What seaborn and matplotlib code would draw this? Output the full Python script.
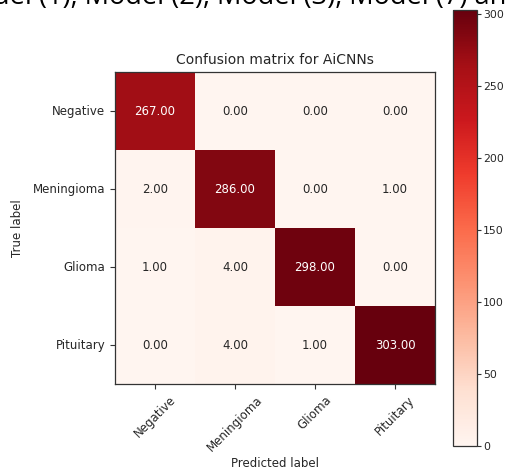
import matplotlib
matplotlib.use("Agg")
import matplotlib.pyplot as plt
import numpy as np
import pandas as pd
import seaborn as sns

# Class names and confusion counts (rows: true label, columns: predicted label)
classes = ["Negative", "Meningioma", "Glioma", "Pituitary"]
row_negative = [267, 0, 0, 0]
row_meningioma = [2, 286, 0, 1]
row_glioma = [1, 4, 298, 0]
row_pituitary = [0, 4, 1, 303]
cbar_ticks = [0, 50, 100, 150, 200, 250, 300]

cm = pd.DataFrame(
    [row_negative, row_meningioma, row_glioma, row_pituitary],
    index=classes, columns=classes, dtype=float,
)

plt.rcParams["font.family"] = ["DejaVu Sans"]
fig = plt.figure(figsize=(5.06, 4.72), dpi=100)
ax = fig.add_axes([0.2273, 0.1864, 0.6324, 0.661])
cax = fig.add_axes([0.8953, 0.0551, 0.0474, 0.9237])

sns.heatmap(
    cm, ax=ax, cbar_ax=cax, cmap="Reds", vmin=0, vmax=cm.values.max(),
    annot=True, fmt=".2f", annot_kws={"fontsize": 8.5},
    linewidths=0, square=False,
)

# Annotation colours as in the classic confusion-matrix plot
thresh = cm.values.max() / 2.0
for txt, val in zip(ax.texts, cm.values.flatten()):
    txt.set_color("white" if val > thresh else "#262626")

for s in ax.spines.values():
    s.set_visible(True)
    s.set_color("#333333")
    s.set_linewidth(0.9)

ax.tick_params(axis="both", length=3.5, width=0.8, color="#333333",
               labelsize=8.5, labelcolor="#262626")
ax.set_xticklabels(classes, rotation=45, ha="center")
ax.set_yticklabels(classes, rotation=0)
ax.set_xlabel("Predicted label", fontsize=8.5, color="#262626", labelpad=2)
ax.set_ylabel("True label", fontsize=8.5, color="#262626", labelpad=6)
ax.set_title("Confusion matrix for AiCNNs", fontsize=10, color="#262626", pad=6)

cbar = ax.collections[0].colorbar
cbar.set_ticks(cbar_ticks)
cbar.outline.set_visible(True)
cbar.outline.set_linewidth(0.9)
cbar.outline.set_edgecolor("#333333")
cax.tick_params(length=3, width=0.8, pad=1.5, color="#333333", labelsize=7.8,
                labelcolor="#262626")

# Surrounding document line, cut off at the top edge
fig.text(-0.014, 1 - 4.5 / 472, "del (1), Model (2), Model (3), Model (7) and",
         fontsize=19.5, family=["Open Sans", "DejaVu Sans"], va="baseline",
         ha="left", color="black")

fig.savefig("out.png", dpi=100)
